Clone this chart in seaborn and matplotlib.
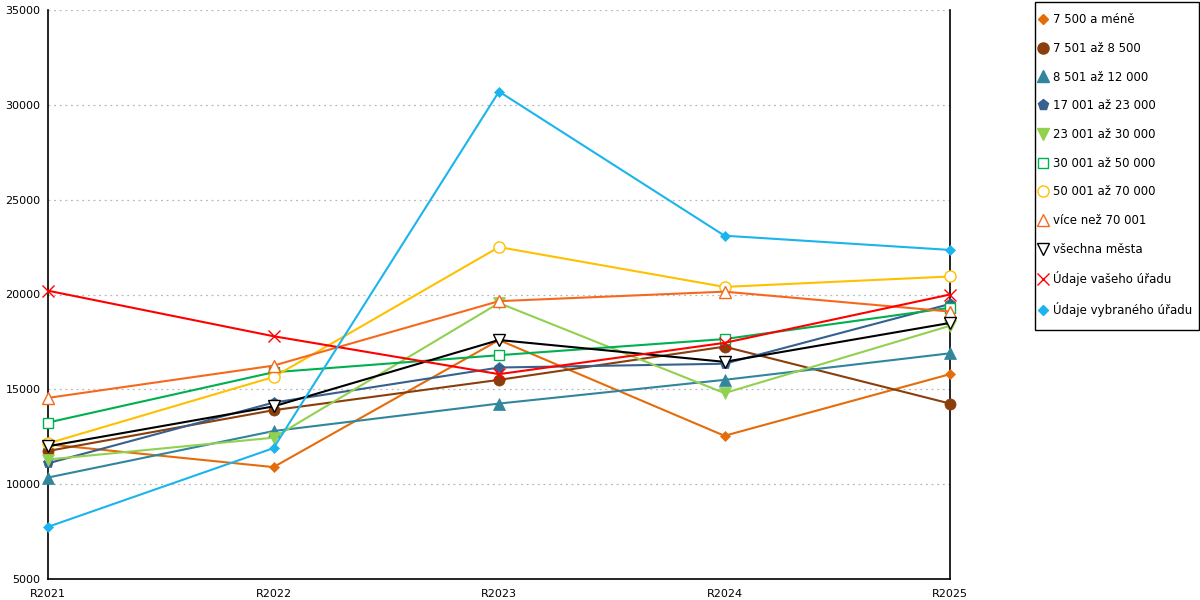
import numpy as np
import pandas as pd
import matplotlib
matplotlib.use("Agg")
import matplotlib.pyplot as plt
import seaborn as sns
from matplotlib.lines import Line2D
from matplotlib.patches import Rectangle

# categories (years)
years = ["R2021", "R2022", "R2023", "R2024", "R2025"]

# series values
s_7500 = [12100, 10900, 17600, 12550, 15800]
s_8500 = [11750, 13900, 15500, 17250, 14250]
s_12000 = [10350, 12800, 14250, 15500, 16900]
s_23000 = [11100, 14300, 16150, 16350, 19500]
s_30000 = [11300, 12450, 19550, 14800, 18350]
s_50000 = [13250, 15900, 16800, 17650, 19300]
s_70000 = [12150, 15650, 22500, 20400, 20950]
s_vice = [14550, 16250, 19650, 20150, 19100]
s_vse = [12000, 14100, 17600, 16450, 18500]
s_vas = [20200, 17800, 15800, 17450, 20000]
s_vybr = [7750, 11900, 30700, 23100, 22350]

labels = ["7 500 a méně", "7 501 až 8 500", "8 501 až 12 000", "17 001 až 23 000",
          "23 001 až 30 000", "30 001 až 50 000", "50 001 až 70 000", "více než 70 001",
          "všechna města", "Údaje vašeho úřadu", "Údaje vybraného úřadu"]
values = [s_7500, s_8500, s_12000, s_23000, s_30000, s_50000, s_70000, s_vice,
          s_vse, s_vas, s_vybr]

# (color, marker, size, filled)
styles = [
    ("#E46C0A", "D", 5.5, True),
    ("#8A3E0C", "o", 8, True),
    ("#31859C", "^", 8, True),
    ("#36608F", "p", 8, True),
    ("#92D050", "v", 8, True),
    ("#00B050", "s", 7.5, False),
    ("#FFC000", "o", 8, False),
    ("#F6691C", "^", 8.5, False),
    ("#000000", "v", 8.5, False),
    ("#FF0000", "x", 8.5, False),
    ("#1CB4EC", "D", 5.5, True),
]

sns.set_style("white")
plt.rcParams["font.family"] = ["DejaVu Sans"]
plt.rcParams["text.color"] = "black"
plt.rcParams["xtick.color"] = "black"
plt.rcParams["ytick.color"] = "black"

fig = plt.figure(figsize=(12, 6), dpi=100)
ax = fig.add_axes([48 / 1200, 1 - 579 / 600, (950 - 48) / 1200, (579 - 10) / 600])

x = np.arange(len(years))
for lab, vals, (col, mk, ms, filled) in zip(labels, values, styles):
    df = pd.DataFrame({"x": x, "y": vals})
    sns.lineplot(data=df, x="x", y="y", ax=ax, color=col, linewidth=1.5,
                 marker=mk, markersize=ms,
                 markerfacecolor=col if filled else "white",
                 markeredgecolor=col, markeredgewidth=1.0 if not filled else 0.5,
                 zorder=3, clip_on=False)

ax.set_xlim(0, 4)
ax.set_ylim(5000, 35000)
ax.set_yticks(range(5000, 35001, 5000))
ax.set_xticks(np.arange(0, 4.01, 0.5))
ax.set_xticklabels([years[int(t)] if t == int(t) else "" for t in np.arange(0, 4.01, 0.5)])
ax.set_xlabel("")
ax.set_ylabel("")
ax.tick_params(axis="both", direction="inout", length=7, width=1, labelsize=8,
               colors="black", pad=2)
ax.tick_params(axis="x", pad=4)

for y in range(10000, 35001, 5000):
    ax.axhline(y, color="#b8b8b8", linestyle=(0, (1.5, 3)), linewidth=0.9, zorder=1)

ax.spines["top"].set_visible(False)
for side in ["left", "right", "bottom"]:
    ax.spines[side].set_color("black")
    ax.spines[side].set_linewidth(1.2)

handles = []
for lab, (col, mk, ms, filled) in zip(labels, styles):
    handles.append(Line2D([], [], linestyle="none", marker=mk, markersize=ms,
                          color=col, markerfacecolor=col if filled else "white",
                          markeredgecolor=col, markeredgewidth=1.0))
leg = fig.legend(handles, labels, loc="upper left",
                 bbox_to_anchor=(1035 / 1200, 1 - 9 / 600), fontsize=8.5,
                 frameon=False, labelspacing=1.33, handlelength=0.7,
                 handletextpad=0.5, borderpad=0.35, borderaxespad=0)

# legend box
fig.patches.append(Rectangle((1035 / 1200, 1 - 330 / 600), 164 / 1200, 328 / 600,
                             transform=fig.transFigure, fill=False,
                             edgecolor="black", linewidth=1.0))

fig.savefig("out.png", dpi=100)
